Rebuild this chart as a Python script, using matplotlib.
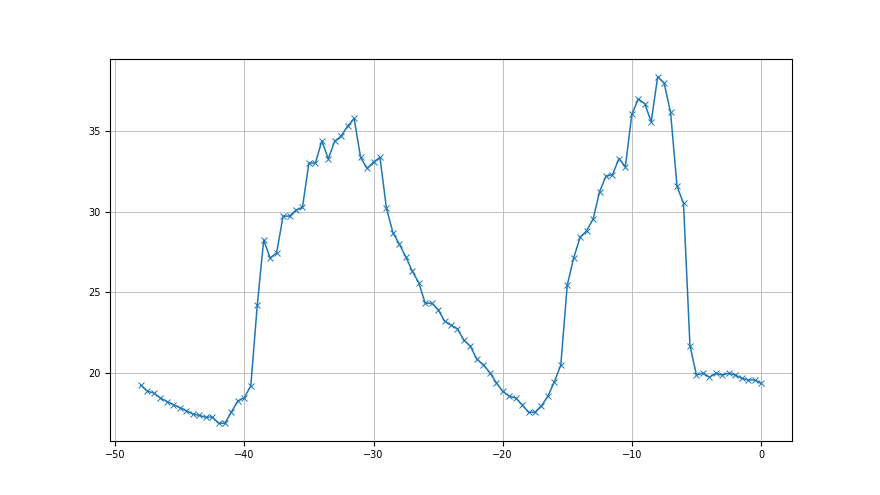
import numpy as np
import matplotlib
matplotlib.use('Agg')
import matplotlib.pyplot as plt

# one sample every 0.5 from -48 to 0
x = np.linspace(-48, 0, 97)
values = [
    19.21, 18.84, 18.73, 18.42, 18.20, 18.01, 17.82, 17.63, 17.43, 17.34,
    17.22, 17.24, 16.85, 16.85, 17.55, 18.24, 18.44, 19.17, 24.19, 28.24,
    27.12, 27.45, 29.73, 29.73, 30.10, 30.27, 33.03, 33.03, 34.40, 33.30,
    34.40, 34.71, 35.33, 35.81, 33.38, 32.70, 33.09, 33.38, 30.23, 28.71,
    27.99, 27.20, 26.31, 25.60, 24.32, 24.32, 23.92, 23.20, 22.95, 22.72,
    22.01, 21.64, 20.83, 20.50, 20.00, 19.38, 18.84, 18.53, 18.42, 18.01,
    17.53, 17.53, 17.93, 18.53, 19.42, 20.46, 25.44, 27.14, 28.42, 28.82,
    29.54, 31.24, 32.22, 32.30, 33.30, 32.80, 36.06, 37.01, 36.72, 35.60,
    38.40, 38.01, 36.18, 31.58, 30.52, 21.68, 19.85, 19.96, 19.71, 19.96,
    19.85, 19.96, 19.85, 19.65, 19.54, 19.54, 19.34,
]


def main():
    fig, ax = plt.subplots(figsize=(8.8, 4.95), dpi=100)
    ax.plot(x, values, marker='x', markersize=4, markeredgewidth=0.7,
            linewidth=1.1, color='#1f77b4')
    ax.grid(True, color='#c0c0c0', linewidth=0.7)
    ax.tick_params(labelsize=7)
    fig.savefig('out.png', dpi=100)


if __name__ == '__main__':
    main()
